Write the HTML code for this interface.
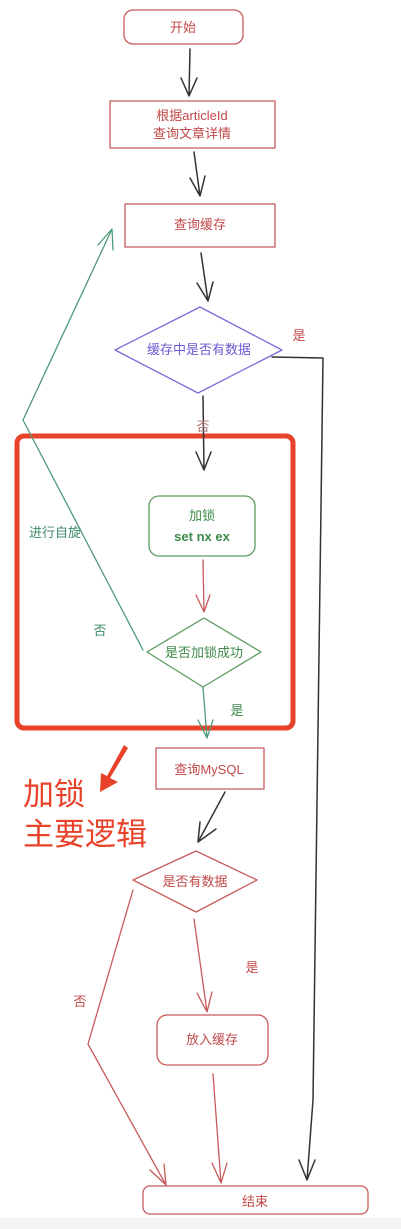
<!DOCTYPE html>
<html><head><meta charset="utf-8"><style>
html,body{margin:0;padding:0;background:#fff;}
svg{display:block}
text{font-family:"Liberation Sans","Noto Sans CJK SC",sans-serif;}
</style></head><body>
<svg width="401" height="1229" viewBox="0 0 401 1229" xmlns="http://www.w3.org/2000/svg">
<rect x="0" y="1218" width="401" height="11" fill="#f3f3f3"/>
<g fill="none" stroke-linecap="round" stroke-linejoin="round">
<!-- start -->
<rect x="124" y="10" width="119" height="34" rx="9" stroke="#c85a5a" stroke-width="1.3"/>
<rect x="110" y="101" width="165" height="47" stroke="#c85a5a" stroke-width="1.3"/>
<rect x="125" y="204" width="150" height="43" stroke="#c85a5a" stroke-width="1.3"/>
<polygon points="115,350 200,307 282,350 198,393" stroke="#7a6ad8" stroke-width="1.3"/>
<rect x="149" y="496" width="106" height="60" rx="10" stroke="#5a9a5e" stroke-width="1.3"/>
<polygon points="147,652 204,618 261,652 203,687" stroke="#5a9a5e" stroke-width="1.3"/>
<rect x="156" y="748" width="108" height="41" stroke="#c85a5a" stroke-width="1.3"/>
<polygon points="133,880 196,851 257,880 196,912" stroke="#c85a5a" stroke-width="1.3"/>
<rect x="157" y="1015" width="111" height="50" rx="10" stroke="#c85a5a" stroke-width="1.3"/>
<rect x="143" y="1186" width="225" height="28" rx="7" stroke="#c85a5a" stroke-width="1.3"/>
<!-- red frame -->
<rect x="17" y="436" width="276" height="292" rx="7" stroke="#e8432a" stroke-width="5"/>
<!-- black arrows -->
<g stroke="#333" stroke-width="1.5">
<path d="M190,49 L189,96 M181,78 L189,96 L197,78"/>
<path d="M194,152 L200,196 M190,178 L200,196 L205,176"/>
<path d="M201,253 L208,301 M197,283 L208,301 L213,282"/>
<path d="M203,396 L204,470 M196,452 L204,470 L211,452"/>
<path d="M272,357 L323,358 L313,1100 L307,1180 M299,1160 L307,1180 L315,1160"/>
<path d="M225,792 L198,842 M200,822 L198,842 L216,829"/>
</g>
<!-- red arrows -->
<g stroke="#c85a5a" stroke-width="1.3">
<path d="M203,560 L204,612 M196,595 L204,612 L210,595"/>
<path d="M194,919 L207,1012 M197,993 L207,1012 L212,992"/>
<path d="M213,1074 L221,1183 M212,1163 L221,1183 L227,1163"/>
<path d="M133,890 L88,1044 L166,1185 M150,1170 L166,1185 L164,1164"/>
</g>
<!-- green -->
<g stroke="#4f9a78" stroke-width="1.3">
<path d="M143,650 L23,420 L112,229 M98,245 L112,229 L113,250"/>
<path d="M203,687 L207,738 M198,720 L207,738 L213,720"/>
</g>
</g>
<!-- big red arrow -->
<path d="M128,748 L110,778 L118,782 L100,792 L101,773 L107,776 L124,745 Z" fill="#e8432a"/>
<g font-size="13" text-anchor="middle">
<text x="183" y="32" fill="#c04848">开始</text>
<text x="192" y="120" fill="#c04848">根据articleId</text>
<text x="192" y="138" fill="#c04848">查询文章详情</text>
<text x="200" y="229" fill="#c04848">查询缓存</text>
<text x="199" y="354" fill="#6a5ad0">缓存中是否有数据</text>
<text x="299" y="340" fill="#c04848">是</text>
<text x="203" y="431" fill="#b07070">否</text>
<text x="202" y="520" fill="#3d8a4a">加锁</text>
<text x="202" y="541" fill="#3d8a4a" font-family="Liberation Mono,monospace" font-weight="bold">set nx ex</text>
<text x="204" y="657" fill="#3d8a4a">是否加锁成功</text>
<text x="237" y="715" fill="#3d8a4a">是</text>
<text x="55" y="537" fill="#3d8a6a">进行自旋</text>
<text x="100" y="635" fill="#3d8a6a">否</text>
<text x="209" y="774" fill="#c04848">查询MySQL</text>
<text x="195" y="886" fill="#c04848">是否有数据</text>
<text x="252" y="972" fill="#c04848">是</text>
<text x="80" y="1006" fill="#c04848">否</text>
<text x="212" y="1044" fill="#c04848">放入缓存</text>
<text x="255" y="1206" fill="#c04848">结束</text>
</g>
<text x="23" y="805" font-size="31" fill="#e8432a">加锁</text>
<text x="23" y="845" font-size="31" fill="#e8432a">主要逻辑</text>
</svg>
</body></html>
